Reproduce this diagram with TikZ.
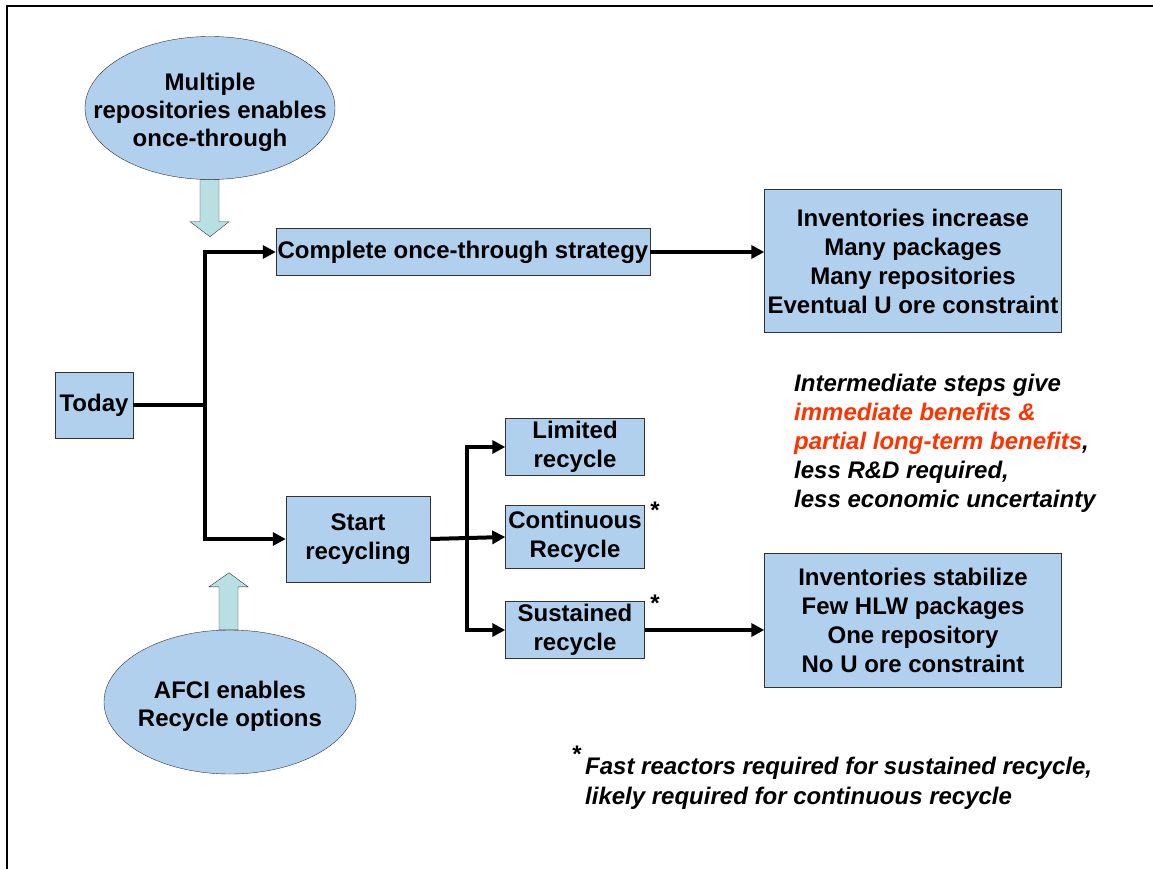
\documentclass[tikz,border=0pt]{standalone}
\usepackage{fontspec}
\setmainfont{Liberation Sans}
\usetikzlibrary{shapes.geometric,arrows.meta}
\definecolor{boxblue}{RGB}{176,208,238}
\definecolor{arrowcyan}{RGB}{184,224,226}
\definecolor{hotred}{RGB}{255,51,0}
\newcommand{\bigbold}{\bfseries\fontsize{24}{29}\selectfont}
\begin{document}
\begin{tikzpicture}[x=1pt,y=-1pt,
    box/.style={draw=black!80, fill=boxblue, align=center, inner sep=1pt, font=\bigbold},
    oval/.style={ellipse, draw=black!80, fill=boxblue, inner sep=0pt},
    ovaltext/.style={align=center, yshift=-4pt, font=\bfseries\fontsize{24}{28}\selectfont},
    flow/.style={line width=4pt, -{Triangle[length=13pt,width=13pt]}},
    blockarrow/.style={draw=black!80, fill=arrowcyan},
    star/.style={font=\bfseries\fontsize{24}{24}\selectfont},
    note/.style={align=left, inner sep=0pt, font=\bfseries\itshape\fontsize{24}{29}\selectfont}]

    \useasboundingbox (0,0) rectangle (1153,869);

    % Frame
    \draw[line width=1.5pt] (7,869) -- (7,6) -- (1153,6);

    % Ovals
    \node[oval, minimum width=250, minimum height=143] (multi) at (210,108) {};
    \node[ovaltext] (multitext) at (multi) {Multiple\\repositories enables\\once-through};
    \node[oval, minimum width=252, minimum height=144] (afci) at (230,702) {};
    \node[ovaltext] (afcitext) at (afci) {AFCI enables\\Recycle options};

    % Block arrows
    \filldraw[blockarrow, shift={(multi.south)}] (-10,0) -- (9,0) -- (9,42) -- (19,42)
        -- (0,57) -- (-20,42) -- (-10,42) -- cycle;
    \filldraw[blockarrow, shift={(afci.north)}] (-11,0) -- (8,0) -- (8,-43) -- (18,-43)
        -- (-1,-57) -- (-21,-43) -- (-11,-43) -- cycle;

    % Boxes
    \node[box, minimum width=78, minimum height=66] (today) at (94,405) {Today};
    \node[box, minimum width=374, minimum height=47] (once) at (463,252) {Complete once-through strategy};
    \node[box, minimum width=297, minimum height=143] (inc) at (913,261)
        {Inventories increase\\Many packages\\Many repositories\\Eventual U ore constraint};
    \node[box, minimum width=144, minimum height=86] (start) at (358,539) {Start\\recycling};
    \node[box, minimum width=139, minimum height=57] (lim) at (575,447) {Limited\\recycle};
    \node[box, minimum width=139, minimum height=63] (cont) at (575,537) {Continuous\\Recycle};
    \node[box, minimum width=139, minimum height=57] (sus) at (575,630) {Sustained\\recycle};
    \node[box, minimum width=297, minimum height=134] (stab) at (913,620)
        {Inventories stabilize\\Few HLW packages\\One repository\\No U ore constraint};

    % Stars
    \node[star] (contstar) at (655,510) {*};
    \node[star] (susstar) at (655,603) {*};

    % Connectors
    \coordinate (split) at (205,405);
    \coordinate (split2) at (467,539);
    \draw[line width=4pt] (today.east) -- (split);
    \draw[flow] (split) |- (once.west);
    \draw[flow] (split) |- (start.west);
    \draw[flow] (once.east) -- (once.east -| inc.west);
    \draw[flow] (start.east) -- (cont.west);
    \draw[flow] (split2) |- (lim.west);
    \draw[flow] (split2) |- (sus.west);
    \draw[flow] (sus.east) -- (sus.east -| stab.west);

    % Notes
    \node[note, anchor=north west] (benefits) at (794,374)
        {Intermediate steps give\\
         \textcolor{hotred}{immediate benefits \&}\\
         \textcolor{hotred}{partial long-term benefits},\\
         less R\&D required,\\
         less economic uncertainty};
    \node[star] (footstar) at (577,754) {*};
    \node[note, anchor=north west, font=\bfseries\itshape\fontsize{24}{30}\selectfont] (footnote) at (585,757)
        {Fast reactors required for sustained recycle,\\
         likely required for continuous recycle};

\end{tikzpicture}
\end{document}
